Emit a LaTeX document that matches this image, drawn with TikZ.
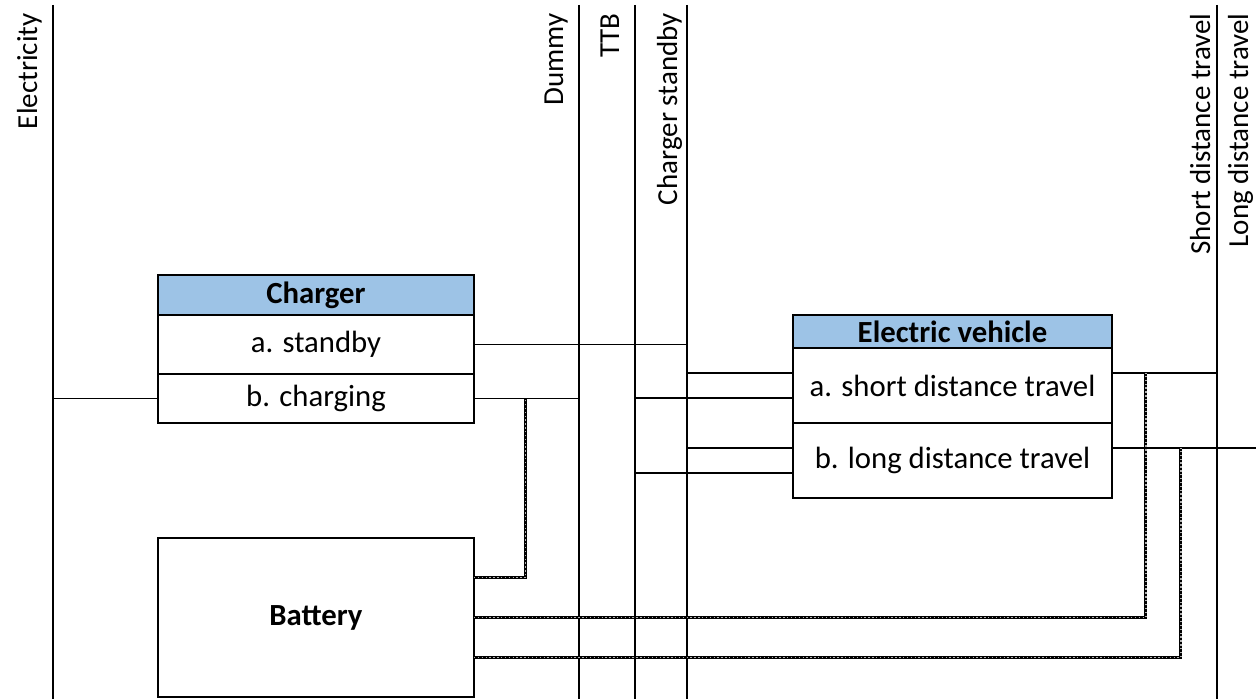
\documentclass[tikz,border=0pt]{standalone}
\usepackage{fontspec}
\setmainfont{Carlito}
\usetikzlibrary{positioning,calc}
\definecolor{headblue}{HTML}{9DC3E6}

\tikzset{
  bus/.style={line width=1.4pt},
  link/.style={line width=1pt},
  hatch/.style={line width=1.7pt, postaction={draw=gray!60, line width=0.6pt, dash pattern=on 0.8pt off 1.4pt}},
  busname/.style={rotate=90, anchor=base east, inner sep=0pt, font=\fontsize{16.5}{20}\selectfont},
  head/.style={draw, line width=1.1pt, outer sep=0pt, fill=headblue, inner sep=0pt, font=\fontsize{17.5}{21}\selectfont\bfseries},
  row/.style={draw, line width=1.1pt, outer sep=0pt, fill=white, inner sep=0pt, font=\fontsize{17.5}{21}\selectfont}
}

\begin{document}
\begin{tikzpicture}[x=0.02cm, y=-0.02cm]
  \useasboundingbox (0,0) rectangle (1256,699);

  % buses
  \foreach \name/\xx in {elec/53, dummy/579, ttb/635, cstb/687, sdt/1217} {
    \coordinate (top \name) at (\xx,5);
    \coordinate (bot \name) at (\xx,699);
    \draw[bus] (top \name) -- (bot \name);
  }
  \coordinate (ldt edge) at (1256,448);

  \node[busname] (elec lbl) at (37,13) {Electricity};
  \node[busname] (dummy lbl) at (563,13) {Dummy};
  \node[busname] (ttb lbl) at (619,13) {TTB};
  \node[busname] (cstb lbl) at (677,13) {Charger standby};
  \node[busname] (sdt lbl) at (1210,13) {Short distance travel};
  \node[busname] (ldt lbl) at (1248,13) {Long distance travel};

  % charger
  \node[head, minimum width=6.32cm, minimum height=0.8cm] (chg h) at (316,295) {Charger};
  \node[row, minimum width=6.32cm, minimum height=1.18cm, below=0pt of chg h] (chg a) {a. standby};
  \node[row, minimum width=6.32cm, minimum height=0.98cm, below=0pt of chg a] (chg b) {b. charging};

  % electric vehicle
  \node[head, minimum width=6.38cm, minimum height=0.66cm] (ev h) at (952.5,331.5) {Electric vehicle};
  \node[row, minimum width=6.38cm, minimum height=1.5cm, below=0pt of ev h] (ev a) {a. short distance travel};
  \node[row, minimum width=6.38cm, minimum height=1.5cm, below=0pt of ev a] (ev b) {b. long distance travel};

  % battery
  \node[row, font=\fontsize{17.5}{21}\selectfont\bfseries, minimum width=6.32cm, minimum height=3.18cm] (bat) at (316,617.5) {Battery};

  % connections
  \draw[link] (chg b.west) -- (chg b.west -| top elec);
  \draw[link] (chg a.east) -- (chg a.east -| top cstb);
  \draw[link] (chg b.east) -- (chg b.east -| top dummy);

  \draw[link] ([yshift=0.25cm]ev a.west) -- ([yshift=0.25cm]ev a.west -| top cstb);
  \draw[link] ([yshift=-0.25cm]ev a.west) -- ([yshift=-0.25cm]ev a.west -| top ttb);
  \draw[link] ([yshift=0.25cm]ev b.west) -- ([yshift=0.25cm]ev b.west -| top cstb);
  \draw[link] ([yshift=-0.25cm]ev b.west) -- ([yshift=-0.25cm]ev b.west -| top ttb);

  \draw[link] ([yshift=0.25cm]ev a.east) -- ([yshift=0.25cm]ev a.east -| top sdt);
  \draw[link] ([yshift=0.25cm]ev b.east) -- ([yshift=0.25cm]ev b.east -| ldt edge);

  % battery links
  \draw[hatch] ([yshift=0.8cm]bat.east) -| ([xshift=1.04cm]chg b.east);
  \draw[hatch] (bat.east) -| ([xshift=0.68cm, yshift=0.25cm]ev a.east);
  \draw[hatch] ([yshift=-0.8cm]bat.east) -| ([xshift=1.38cm, yshift=0.25cm]ev b.east);
\end{tikzpicture}
\end{document}
